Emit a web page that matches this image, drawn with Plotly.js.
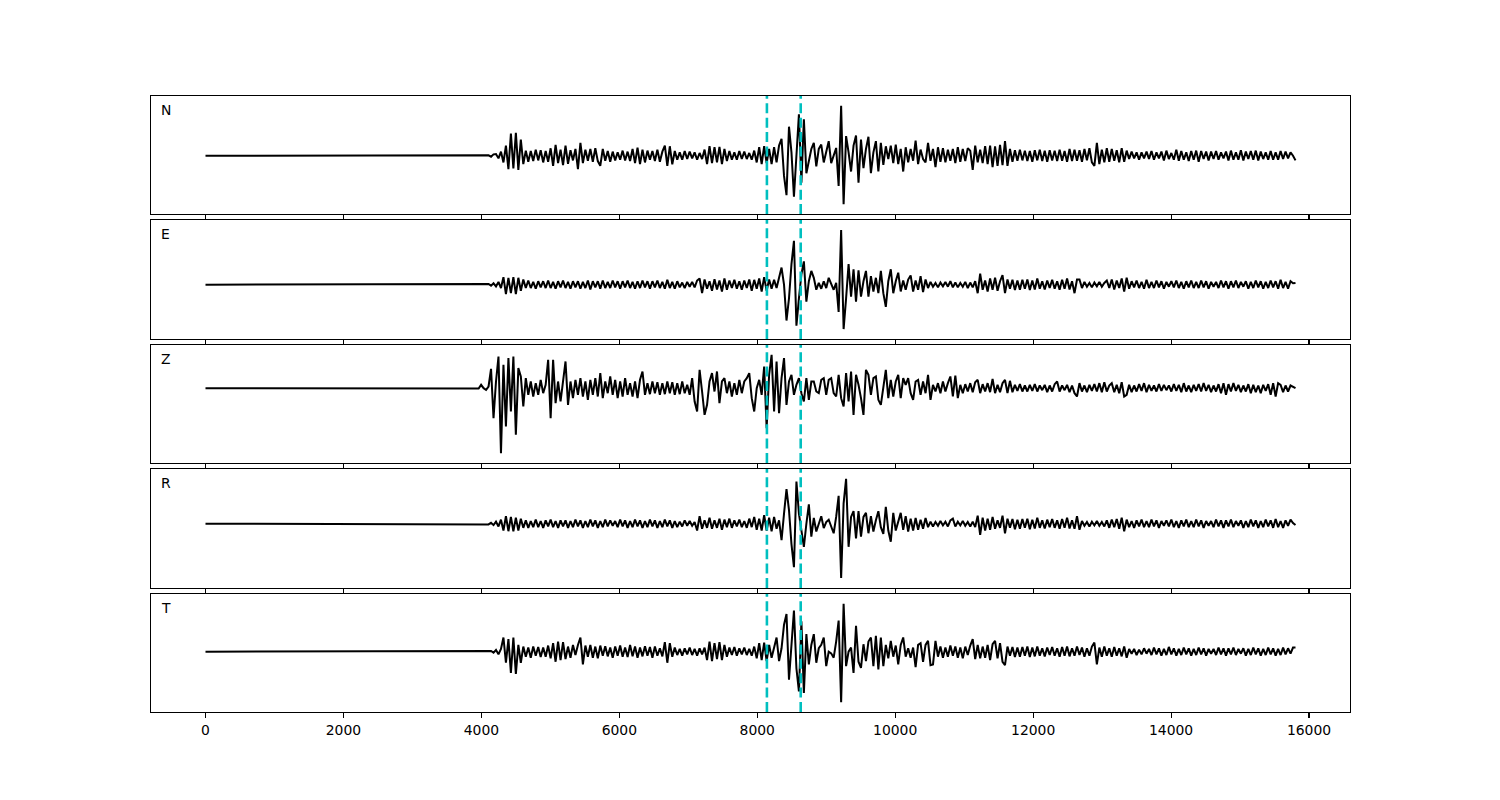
<!DOCTYPE html>
<html>
<head>
<meta charset="utf-8">
<script src="https://cdn.plot.ly/plotly-3.0.1.min.js"></script>
<style>html,body{margin:0;padding:0;background:#fff}#chart{width:1500px;height:800px}</style>
</head>
<body>
<div id="chart"></div>
<script>
// ---------------- data ----------------
const components = ["N", "E", "Z", "R", "T"];
const sampleInterval = 36;          // samples are 36 x-units apart, starting at 0
const picks = [8140, 8630];          // vertical marker positions
const xTickValues = [0, 2000, 4000, 6000, 8000, 10000, 12000, 14000, 16000];

// quiet pre-event part (identical in all components)
const preEvent = [
  0,0,0,0,0,0,0,0,0,0, 0,0,0,0,0,0,0,0,0,0, 0,0,0,0,0,0,0,0,0,0,
  0,0,0,0,0,0,0,0,0,0, 0,0,0,0,0,0,0,0,0,0, 0,0,0,0,0,0,0,0,0,0,
  0,0,0,0,0,0,0,0,0,0, 0,0,0,0,0,0,0,0,0,0, 0,0,0,0,0,0,0,0,0,0,
  0,0,0,0,0,0,0,0,0,0, 0,0,0,0,0,0,0
];

const nEarly = [
  0,0,0,0,0,0,0,1,-3,4,
  5,-8,12,-20,30,-40,66,-38,68,-42,
  48,-25,15,-18,14,-16,18,-14,16,-20,
  14,-18,22,-30,32,-22,18,-28,30,-24,
  16,-14,20,-40,38,-22,18,-15,20,-18,
  22,-16,-30,20,-15,14,-18,12,-14,10,
  -12,15,-14,12,-16,20,-22,24,-25,18,
  -20,15,-12,14,-16,18,-18,12,30,-30,
  28,-26,14,-12,10,-12,14,-10,12,-8,
  10,-12,8,-10,18,-25,28,-22,25,-20,
  26,-25,20,-16,14,-12,10,-12,14,-10,
  12,-10,8,-12,15,-20,25,-25,28,-22,
  20,-25,25,-20,30,50,-60,-117,86,10,
  -122,0,123,-80,108,-52,-10,20,38,-32,
  20,33,-20,10,43,-22,0,23,-90,148,
  -144,58,10,-47,30,60,-80,48,-37,20,
  56,-52,10,43,-47
];
const nLate = [
  38,-27,28,-10,30,-22,33,-25,20,-47,
  25,-20,20,-15,45,-25,18,-10,-20,38,
  -15,20,-34,25,-18,22,-20,18,-15,20,
  -22,25,-18,20,-16,22,15,-42,30,-20,
  18,-22,28,-25,30,-34,28,-30,32,-28,
  43,-30,20,-18,16,-15,18,-14,15,-16,
  14,-18,16,-14,18,-16,15,-18,16,-14,
  15,-16,18,-15,14,-18,20,-16,18,-15,
  16,-18,20,-14,22,-20,-30,38,-25,18,
  -20,22,-18,20,-15,16,-20,22,-18,15,
  -10,12,-8,10,-12,10,-8,12,-10,14,
  -12,10,-8,12,-14,15,-10,8,-12,18,
  -15,14,-12,10,-16,14,-12,15,-18,14,
  -10,12,-14,12,-10,14,-12,10,-8,12,
  -14,15,-12,10,-12,16,-14,12,-10,14,
  -12,15,-14,12,-10,10,-12,14,-12,10,
  -12,14,-10,12,-8,10,0,-14
];

const eEarly = [
  0,0,0,0,0,0,0,2,-3,4,
  -5,8,-10,22,-28,20,-25,22,-28,20,
  -18,15,-10,12,-10,8,-12,10,-8,10,
  -10,12,-10,8,-12,10,-8,12,-10,8,
  -12,10,-8,10,-12,8,-10,12,-14,10,
  -8,10,-12,12,-10,8,-10,12,-8,10,
  -12,10,-8,12,-10,8,-12,10,-10,12,
  -8,10,-12,10,-8,12,-10,8,-12,14,
  -10,8,-12,10,-8,6,-10,8,-6,8,
  -8,12,18,-25,15,-12,10,-18,16,-14,
  12,-20,18,-15,12,-10,14,-12,10,-15,
  12,-10,15,-18,14,-12,18,-20,22,-18,
  15,-12,14,-10,20,50,0,-105,-40,60,
  128,-120,-40,30,68,-50,10,40,20,-15,
  5,-12,10,-10,20,0,-15,5,-80,160,
  -130,-40,60,-35,45,-50,42,-35,10,40,
  -35,25,-20,20,-25
];
const eLate = [
  40,-25,-65,10,45,-25,10,35,-20,12,
  -15,15,27,-20,12,-15,25,-22,15,-10,
  8,-6,5,-8,6,-5,8,-6,10,-8,
  6,-8,5,-6,8,-10,6,-8,10,-25,
  32,-15,12,-20,18,-15,20,-18,10,28,
  -25,15,-12,14,-16,12,-15,14,-12,15,
  -16,12,-14,18,-12,10,-14,12,-10,14,
  -12,10,-15,14,-12,18,-14,10,-25,15,
  15,-10,8,-6,5,-8,6,-5,8,-6,
  5,12,-10,15,-14,12,-10,18,-20,20,
  -12,10,-8,12,-10,8,-12,14,-10,8,
  -10,12,-8,10,-12,8,-6,10,-8,12,
  -10,8,-12,10,-8,12,-10,8,-10,12,
  -8,10,-12,8,-6,8,-10,12,-8,10,
  -12,10,-8,12,-10,8,-6,10,-12,8,
  -10,12,-8,10,-12,8,-10,12,-8,10,
  -12,14,-10,8,-12,10,4,5
];

const zEarly = [
  0,0,1,-1,10,0,-5,5,58,-90,
  20,95,-195,70,-115,90,-70,95,-140,60,
  35,-55,30,-20,20,-25,15,-20,25,-15,
  10,85,-90,85,-45,20,-40,30,80,-50,
  20,-30,25,-20,30,-25,20,-35,25,-20,
  30,-25,45,-30,20,-15,35,-20,25,-30,
  20,-25,30,-20,15,-25,20,-30,25,50,
  -20,15,-18,20,-15,18,-20,15,-18,20,
  -15,18,-20,15,-18,20,-15,10,-20,30,
  -40,-70,55,-10,-80,-50,20,45,-10,50,
  -45,20,30,-15,20,-25,15,-20,25,-15,
  20,30,45,-30,-70,0,25,-20,65,-120,
  40,100,-70,80,-75,30,90,-50,20,40,
  -20,10,30,-15,-40,30,-35,20,20,-10,
  -15,25,30,-20,25,30,-15,-25,40,-30,
  -55,45,-40,50,-80,40,10,-30,-80,55,
  40,-20,30,35,-35
];
const zLate = [
  -50,10,55,-30,25,-25,20,40,-30,30,
  10,30,-15,-35,20,25,-20,20,-15,40,
  -35,10,-10,15,-15,20,-10,15,35,-25,
  38,-30,10,-15,12,-10,15,-12,18,25,
  -15,12,-10,15,-12,28,-15,10,-12,15,
  25,-15,22,-12,10,-8,12,-10,8,-10,
  10,-8,12,-10,8,-6,10,-12,8,-10,
  12,20,-10,8,-6,10,-12,8,-15,-25,
  15,-10,8,-12,10,-8,12,-10,15,-12,
  18,-10,8,15,-12,10,-15,18,-25,-20,
  10,-12,8,-10,12,-8,15,-12,10,-8,
  8,-10,12,-8,10,-6,8,-10,12,-8,
  10,-12,15,-10,8,-12,10,-8,12,-10,
  15,-8,10,-12,8,-10,12,-15,15,-20,
  12,-10,15,-8,10,-12,8,-10,12,-15,
  10,-12,8,-15,10,-8,12,-20,15,-25,
  15,10,-12,8,-10,8,5,0
];

const rEarly = [
  0,0,0,0,0,0,0,-2,3,-4,
  6,-8,12,-20,22,-22,20,-22,18,-20,
  15,-12,10,-12,8,-10,12,-10,8,-12,
  10,-8,12,-10,8,-12,10,-8,10,-12,
  8,-10,12,-8,10,-12,8,-10,12,-8,
  10,-12,8,-10,12,-8,10,-6,8,-10,
  12,-8,10,-12,8,-10,12,-8,10,-12,
  8,-10,12,-8,10,-12,8,-10,12,-8,
  10,-12,8,-10,6,-8,10,-6,8,-6,
  5,-20,22,-15,10,-12,18,-15,10,-12,
  15,-18,12,-10,15,-12,10,-8,12,-10,
  8,-12,15,-10,20,-18,15,-20,25,-20,
  18,-22,20,-15,10,-48,30,102,40,-60,
  -128,124,30,-20,-68,0,57,-38,17,-23,
  0,22,-13,5,12,-10,-28,20,82,-160,
  60,132,-68,20,37,-43,37,-38,20,32,
  -28,22,-23,10,37
];
const rLate = [
  -10,-30,50,-20,-53,32,-20,10,32,-18,
  22,-23,15,-20,17,-18,12,-15,17,-10,
  6,-8,5,-6,8,-5,6,-8,10,15,
  -8,6,-5,8,-6,5,-8,6,-10,24,
  -33,18,-20,15,-18,20,-15,10,-12,24,
  -28,15,-12,14,-16,12,-15,14,-12,15,
  -16,12,-14,18,-12,10,-14,12,-10,14,
  -12,10,-15,14,-12,18,-14,10,-15,22,
  -18,8,-6,5,-8,6,-5,8,-6,5,
  -8,10,-12,12,-10,14,-15,18,-22,12,
  -10,8,-12,10,-8,12,-10,8,-10,12,
  -8,10,-12,8,-6,10,-8,12,-10,8,
  -12,10,-8,12,-10,8,-10,12,-8,10,
  -12,8,-6,8,-10,12,-8,10,-12,10,
  -8,12,-10,8,-6,10,-12,8,-10,12,
  -8,10,-12,8,-10,12,-8,10,-12,14,
  -10,8,-12,10,-6,12,2,-4
];

const tEarly = [
  0,0,0,0,0,0,0,0,2,-3,
  5,-8,8,42,-33,37,-63,42,-66,20,
  -33,15,-15,12,-18,15,-12,14,-16,12,
  -15,18,-20,25,-30,30,-25,28,-22,15,
  -18,20,-10,20,42,-38,18,-15,20,-18,
  15,-20,18,-12,16,-14,12,-18,15,-12,
  18,-15,12,-16,20,-14,15,-18,12,-14,
  16,-12,14,-18,15,-12,10,-14,28,-33,
  25,-15,12,-10,8,-12,10,-8,12,-10,
  8,-12,10,-8,12,-25,30,-28,25,-22,
  28,-25,20,-15,12,-10,14,-12,10,-8,
  12,-10,8,-12,15,-20,25,-25,27,-28,
  20,-18,15,42,-28,10,80,112,-83,20,
  122,-50,-118,90,-123,52,-38,20,52,-33,
  10,20,42,-43,0,-5,-18,30,92,-150,
  142,-43,0,12,-63,77,-30,-48,22,-28,
  30,42,-43,47,-53
];
const tLate = [
  42,-43,20,-20,32,-15,18,-38,20,42,
  -15,10,-18,12,-46,20,25,-30,20,32,
  -40,-38,32,-15,15,-18,12,-15,18,-12,
  15,-18,12,-20,15,-10,18,37,-22,20,
  -20,15,-18,20,-25,22,32,-20,25,-30,
  -40,15,-12,14,-16,12,-15,14,-12,15,
  -16,12,-14,15,-12,10,-14,12,-10,14,
  -12,10,-15,14,-12,15,-14,10,-12,15,
  -10,12,-15,10,-12,15,27,-38,12,-15,
  15,-12,10,-15,14,-12,10,-14,15,-18,
  8,-6,8,-10,6,-8,10,-6,8,-10,
  12,-8,10,-12,8,-10,14,-8,10,-12,
  8,-10,12,-8,10,-12,8,-10,12,-8,
  10,-12,8,-6,8,-10,12,-8,10,-12,
  10,-8,12,-10,8,-6,10,-12,8,-10,
  12,-8,10,-12,8,-10,12,-8,10,-12,
  8,-10,12,-8,10,-6,12,12
];

// ---------------- chart ----------------
const seriesParts = [
  [nEarly, nLate], [eEarly, eLate], [zEarly, zLate], [rEarly, rLate], [tEarly, tLate]
];
const yDomains = [
  [0.8084, 1.0], [0.6055, 0.7987], [0.4042, 0.5958], [0.2013, 0.3945], [0.0, 0.1916]
];

const traces = [];
const shapes = [];
const annotations = [];
const layout = {
  width: 1500, height: 800,
  margin: {l: 151, r: 150, t: 96, b: 88, pad: 0},
  paper_bgcolor: "#ffffff", plot_bgcolor: "#ffffff",
  showlegend: false,
  font: {family: "DejaVu Sans, sans-serif", size: 13.9, color: "#000000"}
};

let tMax = 0;
seriesParts.forEach(p => {
  const n = preEvent.length + p[0].length + p[1].length;
  tMax = Math.max(tMax, (n - 1) * sampleInterval);
});
const xRange = [-0.05 * tMax, 1.05 * tMax];

components.forEach((comp, i) => {
  const idx = i + 1;
  const xa = idx === 1 ? "x" : "x" + idx;
  const ya = idx === 1 ? "y" : "y" + idx;
  const y = preEvent.concat(seriesParts[i][0], seriesParts[i][1]);
  traces.push({
    type: "scatter", mode: "lines",
    x0: 0, dx: sampleInterval, y: y,
    xaxis: xa, yaxis: ya,
    line: {color: "#000000", width: 2},
    hoverinfo: "skip"
  });
  const ymin = Math.min(...y), ymax = Math.max(...y);
  const r = ymax - ymin;
  layout["xaxis" + (idx === 1 ? "" : idx)] = {
    domain: [0, 1], anchor: ya, range: xRange,
    matches: idx === 1 ? undefined : "x",
    showgrid: false, zeroline: false,
    showline: true, mirror: true, linecolor: "#000000", linewidth: 1,
    ticks: "outside", ticklen: 4.9, tickwidth: 1.1, tickcolor: "#000000",
    tickmode: "array", tickvals: xTickValues, ticktext: xTickValues.map(String),
    showticklabels: idx === components.length,
    tickfont: {family: "DejaVu Sans, sans-serif", size: 13.9, color: "#000000"}
  };
  layout["yaxis" + (idx === 1 ? "" : idx)] = {
    domain: yDomains[i], anchor: xa,
    range: [ymin - 0.1 * r, ymax + 0.1 * r],
    showgrid: false, zeroline: false, showticklabels: false, ticks: "",
    showline: true, mirror: true, linecolor: "#000000", linewidth: 1
  };
  picks.forEach(p => {
    shapes.push({
      type: "line", xref: xa, yref: ya + " domain",
      x0: p, x1: p, y0: 0, y1: 1,
      line: {color: "#00bfbf", width: 2.6, dash: "10px,4.4px"}
    });
  });
  annotations.push({
    xref: xa + " domain", yref: ya + " domain",
    x: 0.0065, y: 0.965, xanchor: "left", yanchor: "top",
    text: comp, showarrow: false,
    font: {family: "DejaVu Sans, sans-serif", size: 13.9, color: "#000000"}
  });
});

layout.shapes = shapes;
layout.annotations = annotations;

Plotly.newPlot("chart", traces, layout, {displayModeBar: false, staticPlot: true});
</script>
</body>
</html>
